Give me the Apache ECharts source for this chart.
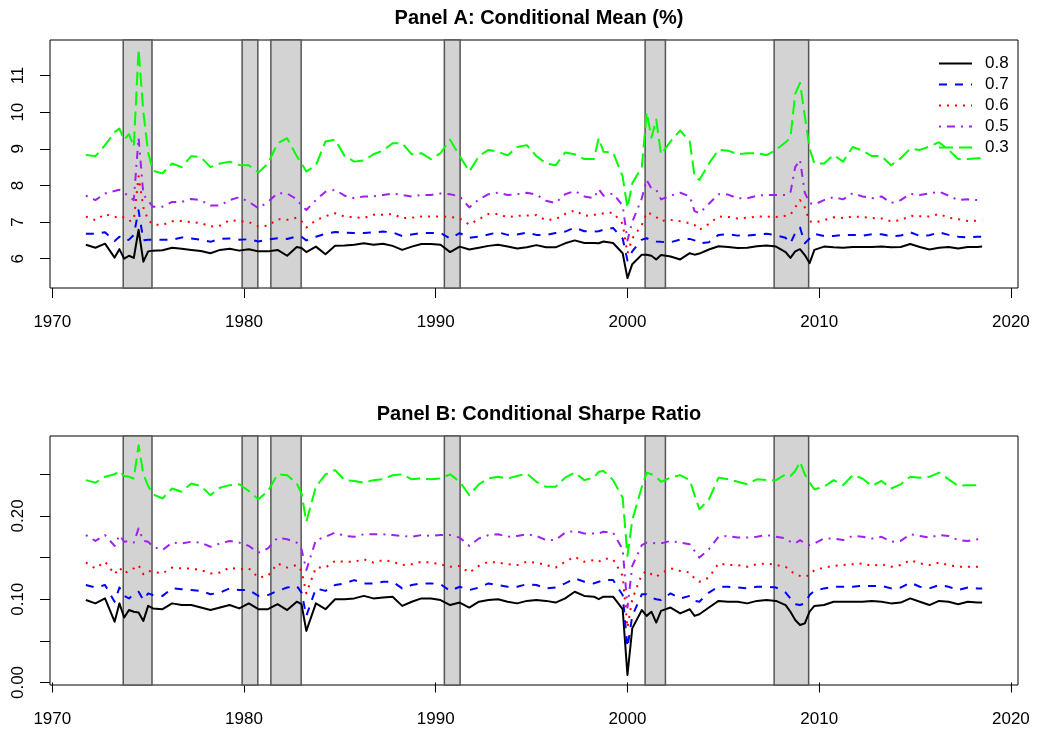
<!DOCTYPE html>
<html>
<head>
<meta charset="utf-8">
<script src="https://cdn.jsdelivr.net/npm/echarts@6/dist/echarts.min.js"></script>
<style>
  html, body { margin: 0; padding: 0; background: #fff; }
  #chart { width: 1037px; height: 730px; }
</style>
</head>
<body>
<div id="chart"></div>
<script>
// quarter dates (denser around the spikes)
var dates = [
  1971.75, 1972.25, 1972.75, 1973.25, 1973.5, 1973.75,
  1974.0, 1974.25, 1974.5, 1974.75, 1975.0, 1975.25,
  1975.75, 1976.25, 1976.75, 1977.25, 1977.75, 1978.25, 1978.75, 1979.25, 1979.75,
  1980.25, 1980.75, 1981.25, 1981.75, 1982.25, 1982.75, 1983.0, 1983.25, 1983.75,
  1984.25, 1984.75, 1985.25, 1985.75, 1986.25, 1986.75, 1987.25, 1987.75, 1988.25, 1988.75, 1989.25, 1989.75,
  1990.25, 1990.75, 1991.25, 1991.75, 1992.25, 1992.75, 1993.25, 1993.75, 1994.25, 1994.75, 1995.25, 1995.75,
  1996.25, 1996.75, 1997.25, 1997.75, 1998.25, 1998.5, 1998.75, 1999.25, 1999.75,
  2000.0, 2000.25, 2000.75, 2001.0, 2001.25, 2001.5, 2001.75, 2002.25, 2002.75, 2003.25, 2003.5, 2003.75,
  2004.25, 2004.75, 2005.25, 2005.75, 2006.25, 2006.75, 2007.25, 2007.75, 2008.25, 2008.5, 2008.75, 2009.0, 2009.25, 2009.5, 2009.75,
  2010.25, 2010.75, 2011.25, 2011.75, 2012.25, 2012.75, 2013.25, 2013.75, 2014.25, 2014.75, 2015.25, 2015.75, 2016.25, 2016.75, 2017.25, 2017.75, 2018.25, 2018.5
];

// NBER recessions (start, end)
var recessions = [[1973.7, 1975.2], [1979.9, 1980.72], [1981.4, 1982.98], [1990.45, 1991.27], [2000.92, 2001.98], [2007.65, 2009.45]];

var seriesNames = ['0.8', '0.7', '0.6', '0.5', '0.3'];

// Panel A: conditional mean (%)
var meanQ8 = [
  6.38,6.30,6.41,6.03,6.26,6.00,
  6.08,6.02,6.79,5.92,6.20,6.22,
  6.23,6.30,6.27,6.24,6.21,6.15,6.24,6.27,6.22,
  6.26,6.20,6.20,6.24,6.08,6.32,6.29,6.18,6.33,
  6.12,6.35,6.36,6.38,6.42,6.38,6.41,6.35,6.24,6.33,6.40,6.40,
  6.38,6.18,6.33,6.25,6.30,6.35,6.38,6.33,6.28,6.31,6.37,6.31,
  6.31,6.42,6.50,6.43,6.43,6.42,6.47,6.43,6.15,
  5.47,5.85,6.11,6.11,6.08,5.98,6.10,6.06,5.98,6.15,6.11,6.14,
  6.25,6.34,6.32,6.29,6.30,6.34,6.36,6.33,6.18,6.02,6.20,6.26,6.10,5.88,6.24,
  6.33,6.31,6.30,6.32,6.32,6.32,6.33,6.31,6.32,6.40,6.32,6.25,6.30,6.32,6.28,6.32,6.32,6.33
];
var meanQ7 = [
  6.68,6.68,6.72,6.48,6.60,6.50,
  6.52,6.65,7.32,6.50,6.52,6.52,
  6.52,6.52,6.58,6.55,6.52,6.46,6.54,6.55,6.52,
  6.53,6.47,6.52,6.56,6.54,6.61,6.60,6.50,6.60,
  6.68,6.73,6.71,6.70,6.70,6.72,6.74,6.72,6.62,6.66,6.70,6.70,
  6.70,6.55,6.70,6.57,6.60,6.66,6.72,6.65,6.66,6.71,6.65,6.65,
  6.70,6.74,6.85,6.75,6.74,6.75,6.79,6.84,6.55,
  5.95,6.20,6.52,6.56,6.50,6.47,6.46,6.45,6.52,6.54,6.50,6.42,
  6.45,6.65,6.67,6.63,6.63,6.66,6.68,6.64,6.57,6.42,6.70,6.85,6.42,6.55,6.68,
  6.62,6.62,6.65,6.65,6.63,6.67,6.67,6.61,6.63,6.72,6.62,6.64,6.72,6.65,6.60,6.58,6.60,6.60
];
var meanQ6 = [
  7.15,7.05,7.22,7.13,7.17,7.12,
  7.03,7.05,8.25,7.40,7.06,6.93,
  6.92,7.02,7.03,7.00,6.97,6.88,6.90,7.05,7.03,
  7.00,6.88,6.90,7.08,7.06,7.12,7.02,6.85,7.05,
  7.16,7.24,7.15,7.13,7.11,7.20,7.20,7.22,7.11,7.12,7.15,7.15,
  7.15,7.14,7.10,6.93,7.08,7.22,7.22,7.13,7.17,7.18,7.19,7.05,
  7.08,7.22,7.32,7.17,7.20,7.20,7.24,7.26,6.95,
  6.15,6.55,6.92,7.26,7.22,7.14,7.03,7.06,7.02,6.97,6.92,6.79,
  6.95,7.15,7.14,7.10,7.12,7.15,7.15,7.14,7.17,7.20,7.40,7.60,7.40,7.02,6.99,
  7.05,7.13,7.11,7.15,7.14,7.11,7.10,7.02,7.05,7.17,7.16,7.15,7.22,7.12,7.08,7.03,7.04,7.04
];
var meanQ5 = [
  7.72,7.60,7.78,7.85,7.88,7.80,
  7.70,7.60,9.30,7.75,7.58,7.42,
  7.42,7.55,7.55,7.63,7.60,7.45,7.45,7.60,7.68,
  7.55,7.38,7.55,7.79,7.78,7.62,7.45,7.33,7.60,
  7.83,7.88,7.72,7.65,7.70,7.70,7.74,7.78,7.74,7.70,7.74,7.74,
  7.78,7.76,7.70,7.40,7.62,7.76,7.80,7.74,7.76,7.80,7.75,7.58,
  7.52,7.76,7.85,7.70,7.65,7.90,7.72,7.78,7.45,
  6.50,7.00,7.65,8.15,7.92,7.88,7.62,7.72,7.80,7.70,7.30,7.24,
  7.50,7.76,7.75,7.65,7.65,7.72,7.74,7.74,7.74,7.80,8.50,8.70,7.80,7.52,7.48,
  7.60,7.68,7.62,7.79,7.70,7.65,7.70,7.52,7.60,7.77,7.74,7.78,7.83,7.72,7.60,7.62,7.60,7.60
];
var meanQ3 = [
  8.83,8.80,9.10,9.45,9.55,9.25,
  9.40,9.06,11.72,10.00,8.90,8.40,
  8.33,8.60,8.50,8.80,8.77,8.50,8.60,8.65,8.56,
  8.55,8.35,8.60,9.15,9.29,8.80,8.60,8.38,8.55,
  9.20,9.25,8.80,8.65,8.68,8.85,8.95,9.15,9.15,8.85,8.88,8.72,
  8.88,9.25,8.80,8.38,8.80,8.97,8.92,8.82,9.05,9.10,8.80,8.60,
  8.55,8.90,8.85,8.72,8.72,9.29,8.92,8.90,8.24,
  7.38,8.06,8.50,10.00,9.30,9.80,8.85,9.20,9.50,9.20,8.24,8.15,
  8.60,8.97,8.95,8.85,8.88,8.88,8.83,8.97,9.18,9.30,10.50,10.80,9.90,9.00,8.60,
  8.60,8.83,8.65,9.05,8.95,8.80,8.80,8.55,8.74,9.00,8.97,9.06,9.18,8.97,8.72,8.72,8.74,8.74
];

// Panel B: conditional Sharpe ratio
var sharpeQ8 = [
  0.099,0.095,0.101,0.073,0.095,0.078,
  0.087,0.085,0.084,0.074,0.092,0.089,
  0.088,0.095,0.093,0.093,0.090,0.087,0.090,0.093,0.089,
  0.095,0.088,0.088,0.094,0.087,0.097,0.094,0.062,0.095,
  0.088,0.100,0.100,0.101,0.104,0.101,0.102,0.103,0.092,0.097,0.101,0.101,
  0.099,0.093,0.096,0.090,0.097,0.099,0.100,0.097,0.095,0.098,0.099,0.098,
  0.096,0.101,0.109,0.104,0.103,0.100,0.103,0.103,0.088,
  0.009,0.065,0.087,0.080,0.085,0.072,0.086,0.090,0.083,0.088,0.080,0.082,
  0.090,0.098,0.097,0.097,0.095,0.098,0.099,0.098,0.093,0.085,0.075,0.069,0.071,0.085,0.092,
  0.093,0.097,0.097,0.097,0.097,0.098,0.097,0.095,0.096,0.101,0.097,0.093,0.098,0.097,0.094,0.097,0.096,0.096
];
var sharpeQ7 = [
  0.117,0.114,0.117,0.097,0.114,0.104,
  0.101,0.106,0.109,0.099,0.107,0.105,
  0.104,0.113,0.112,0.111,0.110,0.106,0.108,0.113,0.111,
  0.111,0.104,0.105,0.110,0.114,0.116,0.108,0.080,0.113,
  0.110,0.117,0.119,0.123,0.119,0.119,0.121,0.121,0.113,0.117,0.119,0.119,
  0.118,0.110,0.115,0.111,0.114,0.119,0.117,0.115,0.115,0.118,0.117,0.113,
  0.114,0.119,0.125,0.121,0.119,0.121,0.123,0.123,0.105,
  0.042,0.080,0.106,0.106,0.102,0.100,0.099,0.107,0.101,0.104,0.098,0.097,
  0.108,0.115,0.115,0.114,0.113,0.115,0.115,0.114,0.108,0.101,0.094,0.093,0.095,0.105,0.110,
  0.113,0.115,0.115,0.115,0.116,0.116,0.116,0.113,0.114,0.120,0.115,0.113,0.117,0.115,0.111,0.114,0.113,0.113
];
var sharpeQ6 = [
  0.144,0.137,0.145,0.130,0.138,0.131,
  0.134,0.137,0.141,0.130,0.134,0.133,
  0.131,0.138,0.137,0.137,0.135,0.131,0.132,0.138,0.136,
  0.137,0.126,0.128,0.143,0.138,0.141,0.134,0.107,0.138,
  0.138,0.146,0.145,0.145,0.148,0.144,0.147,0.145,0.141,0.142,0.145,0.144,
  0.142,0.139,0.140,0.132,0.140,0.145,0.144,0.142,0.141,0.145,0.144,0.141,
  0.138,0.145,0.151,0.145,0.147,0.145,0.149,0.148,0.128,
  0.066,0.100,0.130,0.134,0.130,0.127,0.131,0.137,0.134,0.132,0.125,0.121,
  0.126,0.143,0.141,0.141,0.139,0.142,0.143,0.141,0.139,0.134,0.130,0.128,0.127,0.129,0.135,
  0.138,0.140,0.141,0.142,0.143,0.140,0.142,0.139,0.141,0.147,0.143,0.141,0.144,0.141,0.139,0.139,0.139,0.139
];
var sharpeQ5 = [
  0.177,0.170,0.177,0.164,0.177,0.169,
  0.170,0.168,0.185,0.170,0.169,0.163,
  0.159,0.168,0.167,0.169,0.168,0.163,0.167,0.170,0.168,
  0.164,0.156,0.161,0.174,0.172,0.168,0.160,0.135,0.171,
  0.175,0.180,0.176,0.175,0.178,0.178,0.178,0.177,0.176,0.175,0.177,0.176,
  0.177,0.177,0.174,0.164,0.173,0.177,0.178,0.175,0.176,0.178,0.176,0.171,
  0.171,0.180,0.182,0.179,0.179,0.179,0.181,0.180,0.160,
  0.090,0.140,0.165,0.168,0.168,0.167,0.167,0.170,0.168,0.166,0.158,0.150,
  0.160,0.175,0.176,0.174,0.174,0.175,0.177,0.175,0.173,0.169,0.167,0.171,0.167,0.165,0.167,
  0.173,0.173,0.171,0.176,0.175,0.173,0.175,0.169,0.170,0.178,0.176,0.174,0.177,0.176,0.171,0.170,0.172,0.172
];
var sharpeQ3 = [
  0.243,0.240,0.247,0.250,0.254,0.248,
  0.247,0.245,0.285,0.250,0.236,0.226,
  0.221,0.233,0.229,0.239,0.236,0.225,0.234,0.237,0.238,
  0.230,0.220,0.230,0.250,0.249,0.239,0.227,0.193,0.235,
  0.250,0.255,0.243,0.242,0.240,0.243,0.244,0.249,0.250,0.244,0.245,0.244,
  0.245,0.250,0.241,0.225,0.238,0.245,0.247,0.245,0.248,0.251,0.241,0.235,
  0.235,0.246,0.252,0.243,0.246,0.253,0.254,0.243,0.222,
  0.152,0.195,0.235,0.252,0.250,0.247,0.241,0.246,0.249,0.243,0.225,0.208,
  0.220,0.246,0.244,0.241,0.238,0.244,0.243,0.243,0.250,0.248,0.254,0.265,0.250,0.240,0.232,
  0.235,0.243,0.237,0.249,0.245,0.236,0.242,0.233,0.238,0.247,0.246,0.247,0.252,0.244,0.236,0.237,0.237,0.237
];

var yearTicks = [1970, 1980, 1990, 2000, 2010, 2020];
var meanTicks = [6, 7, 8, 9, 10, 11];
var sharpeTicks = [0, 0.05, 0.10, 0.15, 0.20, 0.25];
var sharpeLabels = [0, 0.10, 0.20];

var font = "'Liberation Sans', Arial, Helvetica, sans-serif";
var colors = ['#000000', '#0000ff', '#ff0000', '#a020f0', '#00ff00'];
var dashes = ['solid', [8, 8], [2, 6], [2, 6, 8, 6], [14, 6]];

function lineSeries(name, vals, idx, k) {
  return {
    name: name,
    type: 'line',
    xAxisIndex: idx,
    yAxisIndex: idx,
    data: dates.map(function (d, i) { return [d, vals[i]]; }),
    symbol: 'none',
    z: 3,
    lineStyle: { color: colors[k], width: 2, type: dashes[k], join: 'round' },
    itemStyle: { color: colors[k] }
  };
}

function shadeSeries(idx) {
  return {
    type: 'line',
    xAxisIndex: idx,
    yAxisIndex: idx,
    data: [],
    z: 1,
    silent: true,
    markArea: {
      silent: true,
      itemStyle: { color: '#d3d3d3', borderColor: '#555', borderWidth: 1.5 },
      data: recessions.map(function (r) { return [{ xAxis: r[0] }, { xAxis: r[1] }]; })
    }
  };
}

function xAxis(idx) {
  return {
    gridIndex: idx, type: 'value', min: 1969.88, max: 2020.37,
    splitLine: { show: false },
    axisLine: { show: false },
    axisTick: { show: true, length: 10, customValues: yearTicks, lineStyle: { color: '#000' } },
    axisLabel: { customValues: yearTicks, margin: 26, fontSize: 17, color: '#000', fontFamily: font,
      formatter: function (v) { return String(v); } }
  };
}

var meanSets = [meanQ8, meanQ7, meanQ6, meanQ5, meanQ3];
var sharpeSets = [sharpeQ8, sharpeQ7, sharpeQ6, sharpeQ5, sharpeQ3];

var series = [shadeSeries(0), shadeSeries(1)];
for (var k = 0; k < 5; k++) series.push(lineSeries(seriesNames[k], meanSets[k], 0, k));
for (var k2 = 0; k2 < 5; k2++) series.push(lineSeries(seriesNames[k2], sharpeSets[k2], 1, k2));

var myChart = echarts.init(document.getElementById('chart'));
var option = {
  animation: false,
  backgroundColor: '#fff',
  title: [
    { text: 'Panel A: Conditional Mean (%)', left: 534, top: 3, textAlign: 'center',
      textStyle: { fontSize: 20, fontWeight: 'bold', color: '#000', fontFamily: font } },
    { text: 'Panel B: Conditional Sharpe Ratio', left: 534, top: 399, textAlign: 'center',
      textStyle: { fontSize: 20, fontWeight: 'bold', color: '#000', fontFamily: font } }
  ],
  legend: {
    data: seriesNames,
    orient: 'vertical',
    left: 938, top: 55,
    padding: 0,
    itemWidth: 33, itemHeight: 16, itemGap: 4,
    itemStyle: { opacity: 0 },
    textStyle: { fontSize: 17, lineHeight: 15, color: '#000', fontFamily: font, padding: [0, 0, 0, 8] }
  },
  grid: [
    { left: 50, top: 40, width: 968, height: 248, show: true, borderColor: '#000', borderWidth: 1, backgroundColor: 'transparent' },
    { left: 50, top: 436, width: 968, height: 249, show: true, borderColor: '#000', borderWidth: 1, backgroundColor: 'transparent' }
  ],
  xAxis: [xAxis(0), xAxis(1)],
  yAxis: [
    { gridIndex: 0, type: 'value', min: 5.2, max: 11.97,
      splitLine: { show: false }, axisLine: { show: false },
      axisTick: { show: true, length: 10, customValues: meanTicks, lineStyle: { color: '#000' } },
      axisLabel: { customValues: meanTicks, rotate: 90, margin: 23, fontSize: 17, color: '#000', fontFamily: font } },
    { gridIndex: 1, type: 'value', min: -0.003, max: 0.296,
      splitLine: { show: false }, axisLine: { show: false },
      axisTick: { show: true, length: 10, customValues: sharpeTicks, lineStyle: { color: '#000' } },
      axisLabel: { customValues: sharpeLabels, rotate: 90, margin: 23, fontSize: 17, color: '#000', fontFamily: font,
        formatter: function (v) { return v.toFixed(2); } } }
  ],
  series: series
};
myChart.setOption(option);
</script>
</body>
</html>
